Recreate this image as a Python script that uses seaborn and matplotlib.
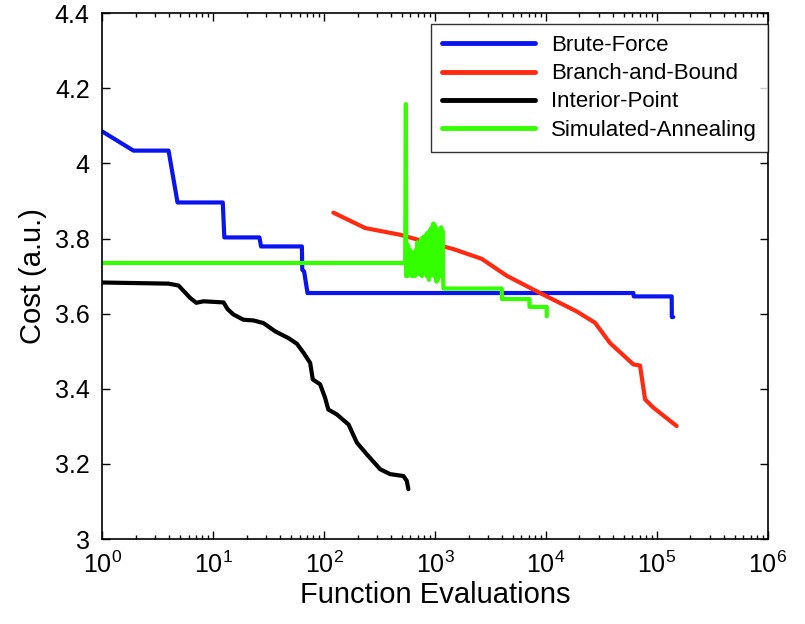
import numpy as np
import pandas as pd
import seaborn as sns
import matplotlib
matplotlib.use('Agg')
import matplotlib.pyplot as plt
from matplotlib.ticker import FuncFormatter, FixedLocator, NullFormatter, LogFormatterMathtext

# data
bf_x = [1, 1.91, 3.96, 4.77, 12.2, 12.6, 26.1, 27.0, 63, 63.5, 66, 70.8,
        61200, 61800, 135600, 136000, 140000]
bf_y = [4.085, 4.034, 4.034, 3.896, 3.896, 3.803, 3.803, 3.779, 3.779, 3.717,
        3.712, 3.655, 3.655, 3.646, 3.646, 3.591, 3.591]

bb_x = [121, 234, 484, 901, 1462, 2630, 4420, 8830, 18900, 27600, 37700,
        61200, 70300, 78000, 92700, 150300]
bb_y = [3.869, 3.828, 3.810, 3.788, 3.772, 3.746, 3.701, 3.655, 3.606, 3.576,
        3.522, 3.465, 3.462, 3.372, 3.350, 3.301]

ip_x = [1, 3.96, 4.87, 6.2, 7.03, 8.19, 12.4, 13.5, 15.2, 18.7, 23.1, 28.4,
        36.2, 47.7, 56.8, 65.2, 74.8, 79, 92, 102, 109, 130, 166, 197, 242,
        320, 393, 518, 556, 574]
ip_y = [3.683, 3.680, 3.675, 3.642, 3.629, 3.633, 3.630, 3.612, 3.598, 3.584,
        3.582, 3.575, 3.553, 3.535, 3.520, 3.496, 3.469, 3.425, 3.412, 3.376,
        3.345, 3.332, 3.305, 3.257, 3.226, 3.186, 3.173, 3.168, 3.155, 3.133]

sa_x = [1, 537, 545, 550, 558, 565, 572, 580, 590, 600, 610, 620, 630, 640,
        650, 660, 670, 680, 690, 700, 710, 720, 730, 740, 750, 760, 770, 780,
        790, 800, 810, 820, 830, 840, 850, 860, 870, 880, 890, 900, 910, 920,
        935, 950, 965, 980, 990, 1000, 1015, 1030, 1045, 1060, 1075, 1090,
        1105, 1120, 1135, 1150, 1165, 1180, 1190, 3990, 4000, 7080, 7100,
        10140, 10150]
sa_y = [3.735, 3.735, 4.158, 3.700, 3.785, 3.700, 3.780, 3.705, 3.770, 3.720,
        3.765, 3.700, 3.760, 3.705, 3.750, 3.700, 3.770, 3.725, 3.790, 3.710,
        3.785, 3.705, 3.790, 3.715, 3.800, 3.700, 3.795, 3.720, 3.805, 3.710,
        3.800, 3.730, 3.810, 3.700, 3.815, 3.740, 3.800, 3.690, 3.820, 3.700,
        3.825, 3.710, 3.830, 3.750, 3.840, 3.700, 3.835, 3.710, 3.830, 3.685,
        3.820, 3.690, 3.815, 3.700, 3.825, 3.720, 3.830, 3.700, 3.820, 3.690,
        3.667, 3.667, 3.639, 3.639, 3.618, 3.618, 3.593]

x_ticks = [1, 10, 100, 1000, 1e4, 1e5, 1e6]
y_ticks = [3, 3.2, 3.4, 3.6, 3.8, 4, 4.2, 4.4]

names = ['Brute-Force', 'Branch-and-Bound', 'Interior-Point', 'Simulated-Annealing']
colors = ['#0a14f0', '#ff2a10', '#000000', '#33ff00']

frames = []
for name, xs, ys in zip(names, [bf_x, bb_x, ip_x, sa_x], [bf_y, bb_y, ip_y, sa_y]):
    frames.append(pd.DataFrame({'evals': xs, 'cost': ys, 'method': name}))
df = pd.concat(frames, ignore_index=True)

sns.set_style('ticks')
plt.rcParams['font.family'] = ['Liberation Sans', 'DejaVu Sans']
plt.rcParams['mathtext.fontset'] = 'custom'
plt.rcParams['mathtext.rm'] = 'Liberation Sans'
plt.rcParams['text.color'] = 'black'
plt.rcParams['axes.labelcolor'] = 'black'
plt.rcParams['xtick.color'] = 'black'
plt.rcParams['ytick.color'] = 'black'

fig = plt.figure(figsize=(8.05, 6.24), dpi=100)
ax = fig.add_axes([0.127, 0.136, 0.827, 0.843])

sns.lineplot(data=df, x='evals', y='cost', hue='method', hue_order=names,
             palette=dict(zip(names, colors)), estimator=None, sort=False,
             linewidth=3, ax=ax)

ax.set_xscale('log')
ax.set_xlim(1, 1e6)
ax.set_ylim(3, 4.4)
ax.set_yticks(y_ticks)
ax.yaxis.set_major_formatter(FuncFormatter(lambda v, p: '%g' % round(v, 1)))
ax.xaxis.set_major_locator(FixedLocator(x_ticks))
ax.xaxis.set_major_formatter(LogFormatterMathtext())
minor = [m * d for d in x_ticks[:-1] for m in range(2, 10)]
ax.xaxis.set_minor_locator(FixedLocator(minor))
ax.xaxis.set_minor_formatter(NullFormatter())

ax.tick_params(axis='both', which='both', direction='in', top=True, right=True,
               width=1)
ax.tick_params(axis='both', labelsize=18)
ax.tick_params(which='major', length=6, pad=9)
ax.tick_params(which='minor', length=3)
for s in ax.spines.values():
    s.set_linewidth(1.2)
    s.set_color('black')

ax.set_xlabel('Function Evaluations', fontsize=21, labelpad=2)
ax.set_ylabel('Cost (a.u.)', fontsize=21, labelpad=6)

leg = ax.legend(loc='upper right', bbox_to_anchor=(1.0, 0.979), borderaxespad=0,
                fontsize=16, handlelength=4.2, handletextpad=0.7,
                labelspacing=0.32, borderpad=0.5, frameon=True, fancybox=False)
leg.get_frame().set_edgecolor('black')
leg.get_frame().set_linewidth(1)
for line in leg.get_lines():
    line.set_linewidth(3.5)

fig.savefig('out.png', dpi=100)
